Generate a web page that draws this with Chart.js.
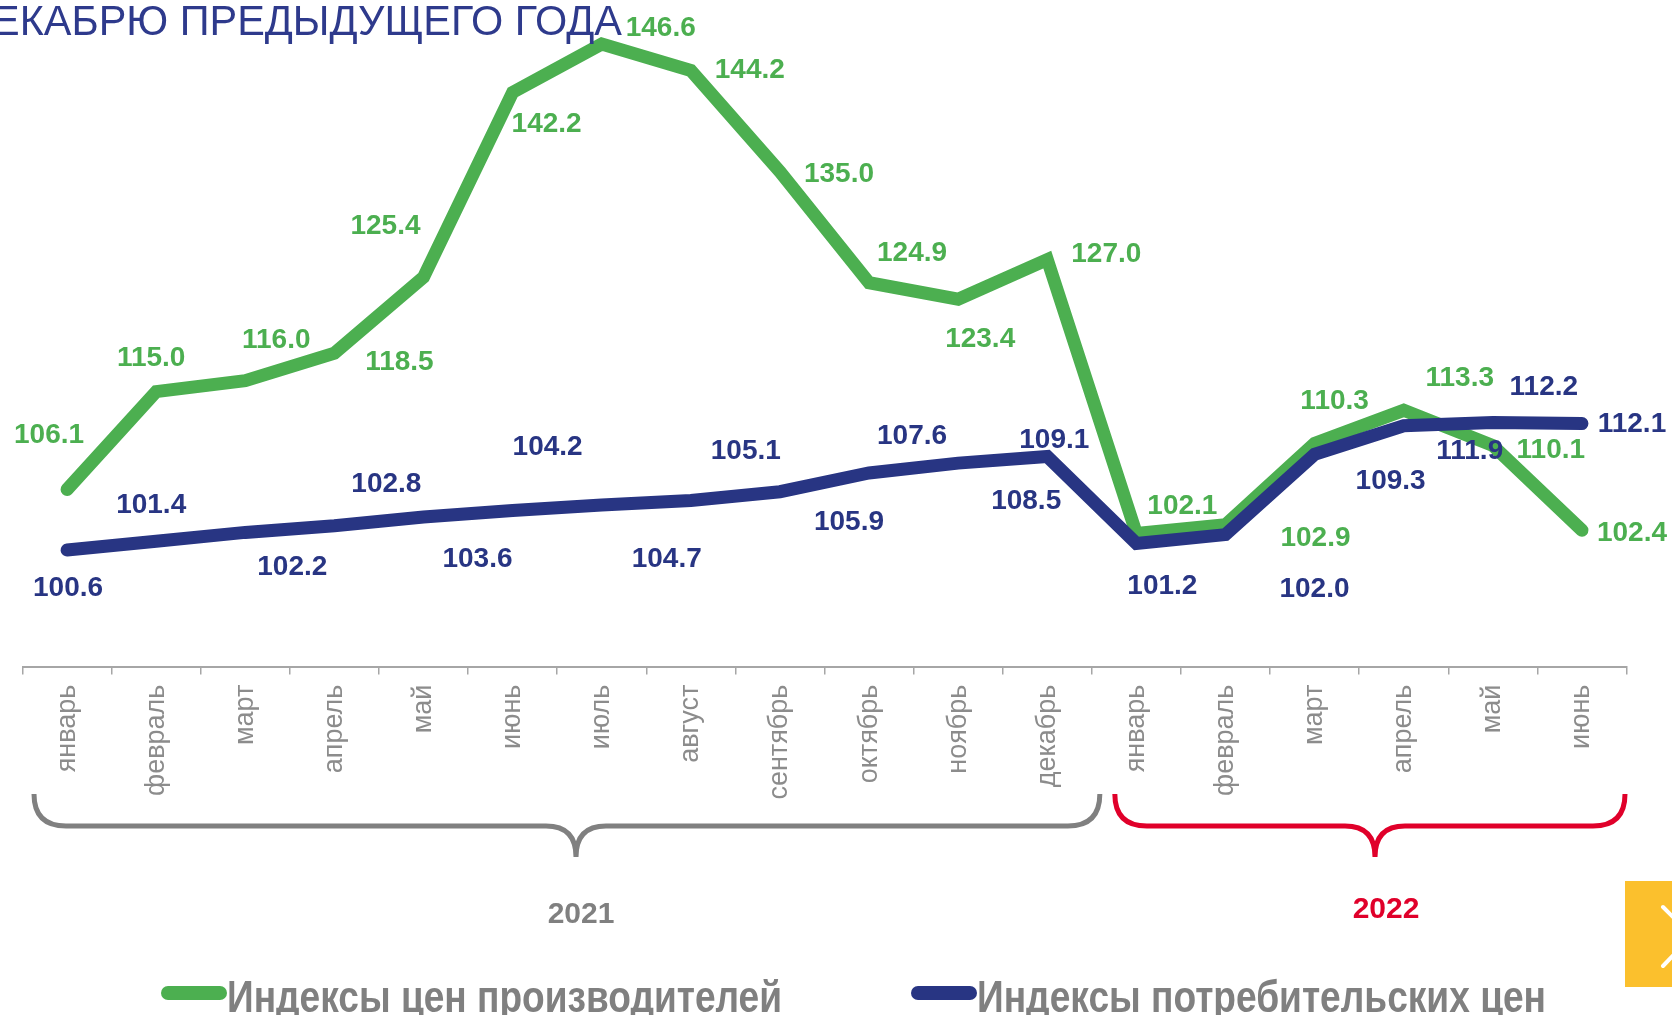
<!DOCTYPE html>
<html lang="ru">
<head>
<meta charset="utf-8">
<title>Индексы цен</title>
<script src="https://cdn.jsdelivr.net/npm/chart.js@4.4.0/dist/chart.umd.min.js"></script>
<style>
  html, body { margin: 0; padding: 0; background: #fff; overflow: hidden; }
  #wrap { width: 1672px; height: 1015px; position: relative; }
</style>
</head>
<body>
<div id="wrap"><canvas id="indexChart"></canvas></div>
<script>
// данные
const months = ['январь', 'февраль', 'март', 'апрель', 'май', 'июнь', 'июль', 'август',
  'сентябрь', 'октябрь', 'ноябрь', 'декабрь', 'январь', 'февраль', 'март', 'апрель', 'май', 'июнь'];
const producerIdx = [106.1, 115.0, 116.0, 118.5, 125.4, 142.2, 146.6, 144.2, 135.0, 124.9, 123.4, 127.0,
  102.1, 102.9, 110.3, 113.3, 110.1, 102.4];
const consumerIdx = [100.6, 101.4, 102.2, 102.8, 103.6, 104.2, 104.7, 105.1, 105.9, 107.6, 108.5, 109.1,
  101.2, 102.0, 109.3, 111.9, 112.2, 112.1];
const years = ['2021', '2022'];
const seriesNames = ['Индексы цен производителей', 'Индексы потребительских цен'];
const titleText = 'ДЕКАБРЮ ПРЕДЫДУЩЕГО ГОДА';

// смещения подписей значений (px от точки)
const producerLabelPos = [[-18, -57], [-5, -36], [31, -43], [65, 7], [-38, -53], [34, 30], [59, -18], [59, -2], [59, 0],
  [43, -32], [22, 38], [59, -8], [46, -30], [90, 11], [20, -44], [56, -34], [58, 2], [50, 1]];
const consumerLabelPos = [[1, 36], [-5, -38], [47, 33], [52, -44], [54, 40], [35, -65], [65, 52], [55, -52], [69, 28],
  [43, -39], [68, 36], [7, -19], [26, 41], [89, 52], [76, 25], [66, 23], [51, -37], [50, -2]];

const GREEN = '#4caf50';
const BLUE = '#283583';
const GRAY = '#808080';
const RED = '#e0002a';
const FONT = '"Liberation Sans", Arial, sans-serif';

function drawBrace(ctx, x0, x1, cx, top, mid, tip, color) {
  const r = 32, rc = 30;
  ctx.save();
  ctx.strokeStyle = color;
  ctx.lineWidth = 5;
  ctx.beginPath();
  ctx.moveTo(x0, top);
  ctx.quadraticCurveTo(x0, mid, x0 + r, mid);
  ctx.lineTo(cx - rc, mid);
  ctx.quadraticCurveTo(cx, mid, cx, tip);
  ctx.quadraticCurveTo(cx, mid, cx + rc, mid);
  ctx.lineTo(x1 - r, mid);
  ctx.quadraticCurveTo(x1, mid, x1, top);
  ctx.stroke();
  ctx.restore();
}

function fitText(ctx, text, x, y, width) {
  const w = ctx.measureText(text).width;
  ctx.save();
  ctx.translate(x, y);
  ctx.scale(width / w, 1);
  ctx.fillText(text, 0, 0);
  ctx.restore();
}

const decorPlugin = {
  id: 'decor',
  afterDatasetsDraw(chart) {
    const ctx = chart.ctx;
    const xs = chart.scales.x;
    const step = xs.getPixelForValue(1) - xs.getPixelForValue(0);
    const edge = i => xs.getPixelForValue(i) - step / 2;

    // подписи значений
    const pos = [producerLabelPos, consumerLabelPos];
    const cols = [GREEN, BLUE];
    ctx.save();
    ctx.font = 'bold 28px ' + FONT;
    ctx.textAlign = 'center';
    ctx.textBaseline = 'alphabetic';
    chart.data.datasets.forEach((ds, d) => {
      const meta = chart.getDatasetMeta(d);
      ctx.fillStyle = cols[d];
      meta.data.forEach((pt, i) => {
        ctx.fillText(ds.data[i].toFixed(1), pt.x + pos[d][i][0], pt.y + pos[d][i][1] + 10);
      });
    });
    ctx.restore();

    // заголовок (обрезан слева)
    ctx.save();
    ctx.font = '43px ' + FONT;
    ctx.fillStyle = '#2e3a8c';
    const vis = titleText.slice(1);
    const sx = 630 / ctx.measureText(vis).width;
    ctx.translate(622, 35);
    ctx.scale(sx, 1);
    ctx.textAlign = 'right';
    ctx.fillText(titleText, 0, 0);
    ctx.restore();

    // фигурные скобки по годам
    drawBrace(ctx, edge(0) + 11.5, edge(12) + 8, 576, 794, 826, 857, GRAY);
    drawBrace(ctx, edge(12) + 23, edge(18) - 1.5, 1375, 794, 826, 857, RED);

    ctx.save();
    ctx.font = 'bold 30px ' + FONT;
    ctx.textAlign = 'center';
    ctx.fillStyle = GRAY;
    ctx.fillText(years[0], 581, 923);
    ctx.fillStyle = RED;
    ctx.fillText(years[1], 1386, 918);
    ctx.restore();

    // легенда
    const leg = [
      { x0: 161, x1: 227, tw: 555, color: GREEN },
      { x0: 911, x1: 977, tw: 569, color: BLUE }
    ];
    ctx.save();
    ctx.font = 'bold 44px ' + FONT;
    ctx.textAlign = 'left';
    leg.forEach((l, i) => {
      ctx.strokeStyle = l.color;
      ctx.lineWidth = 14;
      ctx.lineCap = 'round';
      ctx.beginPath();
      ctx.moveTo(l.x0 + 7, 993);
      ctx.lineTo(l.x1 - 7, 993);
      ctx.stroke();
      ctx.fillStyle = GRAY;
      fitText(ctx, seriesNames[i], l.x1, 1012, l.tw);
    });
    ctx.restore();

    // жёлтая кнопка справа
    ctx.save();
    ctx.fillStyle = '#fbc02d';
    ctx.fillRect(1625, 881, 47, 106);
    ctx.strokeStyle = '#ffffff';
    ctx.lineWidth = 4;
    ctx.lineCap = 'round';
    ctx.beginPath();
    ctx.moveTo(1663, 907);
    ctx.lineTo(1692, 936);
    ctx.lineTo(1663, 966);
    ctx.stroke();
    ctx.restore();
  }
};

const ctx = document.getElementById('indexChart').getContext('2d');
const indexChart = new Chart(ctx, {
  type: 'line',
  data: {
    labels: months,
    datasets: [{
      label: seriesNames[0],
      data: producerIdx,
      borderColor: GREEN,
      borderWidth: 13,
      borderCapStyle: 'round',
      borderJoinStyle: 'miter',
      pointRadius: 0,
      tension: 0,
      fill: false,
      order: 2
    }, {
      label: seriesNames[1],
      data: consumerIdx,
      borderColor: BLUE,
      borderWidth: 13,
      borderCapStyle: 'round',
      borderJoinStyle: 'miter',
      pointRadius: 0,
      tension: 0,
      fill: false,
      order: 1
    }]
  },
  options: {
    responsive: true,
    maintainAspectRatio: false,
    animation: false,
    layout: { padding: { left: 22.5, right: 45.5, top: 6.6, bottom: 0 } },
    plugins: {
      legend: { display: false },
      tooltip: { enabled: false },
      title: { display: false }
    },
    scales: {
      x: {
        offset: true,
        grid: {
          offset: true,
          drawOnChartArea: false,
          drawTicks: true,
          tickLength: 8,
          color: '#a6a6a6',
          lineWidth: 1.5
        },
        border: { display: true, color: '#a6a6a6', width: 2 },
        ticks: {
          autoSkip: false,
          minRotation: 90,
          maxRotation: 90,
          padding: 10,
          color: '#8c8c8c',
          font: { family: FONT, size: 27 }
        },
        afterFit: s => { s.height = 348.4; }
      },
      y: { display: false, min: 90, max: 150 }
    }
  },
  plugins: [decorPlugin]
});
</script>
</body>
</html>
